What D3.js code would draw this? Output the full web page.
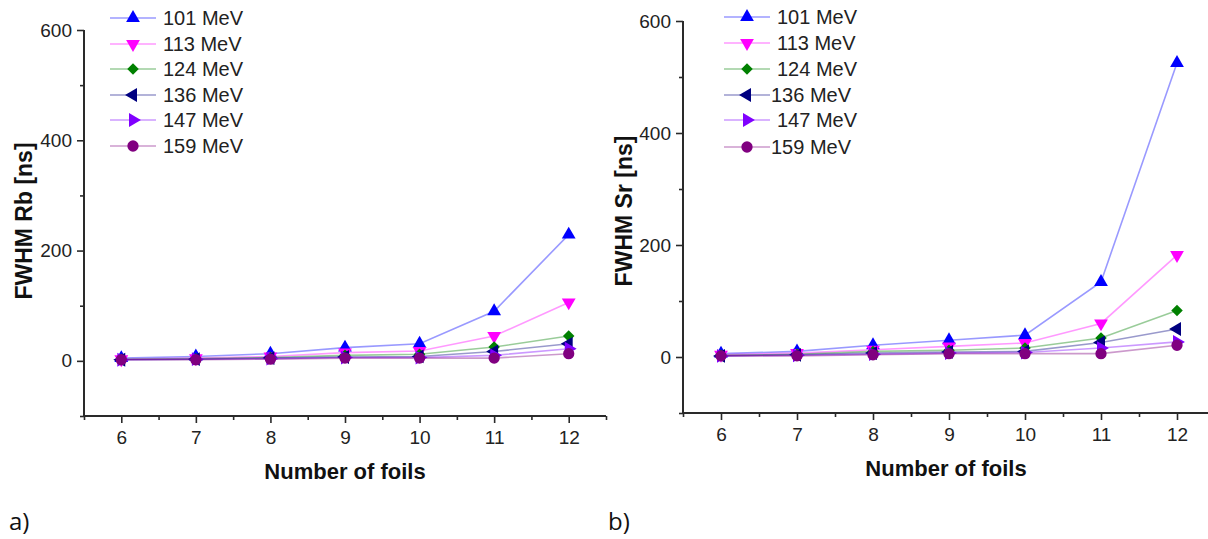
<!DOCTYPE html>
<html>
<head>
<meta charset="utf-8">
<script src="https://cdn.jsdelivr.net/npm/d3@7"></script>
<style>
  html, body { margin: 0; padding: 0; background: #fff; }
  svg { display: block; }
  text { font-family: "Liberation Sans", Arial, sans-serif; }
</style>
</head>
<body>
<svg id="chart" width="1208" height="539"></svg>
<script>
// ---- data ----
const foils = [6, 7, 8, 9, 10, 11, 12];
const seriesNames = ["101 MeV", "113 MeV", "124 MeV", "136 MeV", "147 MeV", "159 MeV"];

const rb101 = [5, 8, 13, 24, 31, 90, 229];
const rb113 = [3, 5, 8, 15, 18, 45, 106];
const rb124 = [3, 4, 6, 10, 12, 25, 45];
const rb136 = [2, 3, 5, 7, 8, 17, 31];
const rb147 = [2, 3, 4, 6, 6, 10, 22];
const rb159 = [2, 2, 3, 5, 5, 5, 13];

const sr101 = [6, 10, 21, 30, 39, 134, 525];
const sr113 = [4, 7, 13, 19, 25, 60, 182];
const sr124 = [3, 5, 10, 12, 16, 34, 83];
const sr136 = [2, 4, 7, 9, 10, 26, 50];
const sr147 = [2, 3, 5, 7, 8, 16, 27];
const sr159 = [2, 2, 4, 6, 6, 6, 21];

const xTicks = [6, 7, 8, 9, 10, 11, 12];
const yTicks = [0, 200, 400, 600];

// ---- styles ----
const colors = ["#0000ff", "#ff00ff", "#008000", "#000080", "#8000ff", "#800080"];
const shapes = [
  {type: d3.symbolTriangle, size: 82, rot: 0},
  {type: d3.symbolTriangle, size: 82, rot: 180},
  {type: d3.symbolSquare, size: 66, rot: 45},
  {type: d3.symbolTriangle, size: 82, rot: -90},
  {type: d3.symbolTriangle, size: 82, rot: 90},
  {type: d3.symbolCircle, size: 100, rot: 0}
];

const svg = d3.select("#chart");
const axisColor = "#2a2a2a";

function panel(cfg) {
  const x = d3.scaleLinear().domain([5.5, 12.5]).range([cfg.x0, cfg.x1]);
  const y = d3.scaleLinear().domain([-100, 600]).range([cfg.yBottom, cfg.yTop]);
  const g = svg.append("g");

  const xAxis = g.append("g").attr("transform", `translate(0,${cfg.yBottom})`)
    .call(d3.axisBottom(x).tickValues(xTicks).tickSize(7).tickPadding(8).tickFormat(d3.format("d")));
  const xMinor = g.append("g").attr("transform", `translate(0,${cfg.yBottom})`)
    .call(d3.axisBottom(x).tickValues([5.5, 6.5, 7.5, 8.5, 9.5, 10.5, 11.5, 12.5]).tickSize(4).tickFormat(""));
  const yAxis = g.append("g").attr("transform", `translate(${cfg.x0},0)`)
    .call(d3.axisLeft(y).tickValues(yTicks).tickSize(7).tickPadding(5).tickFormat(d3.format("d")));
  const yMinor = g.append("g").attr("transform", `translate(${cfg.x0},0)`)
    .call(d3.axisLeft(y).tickValues([-100, 100, 300, 500]).tickSize(4).tickFormat(""));

  [xAxis, xMinor, yAxis, yMinor].forEach(a => {
    a.select(".domain").attr("stroke", axisColor).attr("stroke-width", 2);
    a.selectAll(".tick line").attr("stroke", axisColor).attr("stroke-width", 1.6);
    a.selectAll("text").attr("fill", "#222").style("font-size", "19px")
      .style("font-family", "'Liberation Sans', Arial, sans-serif");
  });
  xMinor.select(".domain").remove();
  yMinor.select(".domain").remove();
  yAxis.select(".domain").attr("d", `M0,${cfg.yBottom}V${cfg.yTop}`);
  xAxis.select(".domain").attr("d", `M${cfg.x0},0H${cfg.x1}`);

  // axis titles
  g.append("text")
    .attr("x", cfg.xTitleX)
    .attr("y", cfg.yBottom + 63)
    .attr("text-anchor", "middle")
    .style("font-size", "22px").style("font-weight", "bold").attr("fill", "#111")
    .text("Number of foils");
  g.append("text")
    .attr("transform", `translate(${cfg.yTitleX},${cfg.yTitleY}) rotate(-90)`)
    .attr("text-anchor", "middle")
    .style("font-size", "23px").style("font-weight", "bold").attr("fill", "#111")
    .text(cfg.yTitle);

  // series
  const line = d3.line().x((d, i) => x(foils[i])).y(d => y(d));
  cfg.data.forEach((vals, s) => {
    const sg = g.append("g");
    sg.append("path").datum(vals)
      .attr("d", line)
      .attr("fill", "none")
      .attr("stroke", colors[s])
      .attr("stroke-opacity", 0.4)
      .attr("stroke-width", 1.6);
    sg.selectAll("path.m").data(vals).enter().append("path")
      .attr("class", "m")
      .attr("d", d3.symbol().type(shapes[s].type).size(shapes[s].size))
      .attr("transform", (d, i) => `translate(${x(foils[i])},${y(d)}) rotate(${shapes[s].rot})`)
      .attr("fill", colors[s]);
  });

  // legend
  seriesNames.forEach((name, s) => {
    const ly = cfg.legY[s];
    g.append("line")
      .attr("x1", cfg.legX0).attr("x2", cfg.legX0 + 46)
      .attr("y1", ly).attr("y2", ly)
      .attr("stroke", colors[s]).attr("stroke-opacity", 0.4).attr("stroke-width", 1.6);
    g.append("path")
      .attr("d", d3.symbol().type(shapes[s].type).size(shapes[s].size))
      .attr("transform", `translate(${cfg.legX0 + 23},${ly}) rotate(${shapes[s].rot})`)
      .attr("fill", colors[s]);
    g.append("text")
      .attr("x", cfg.legTextX[s]).attr("y", ly + 7)
      .style("font-size", "20px").attr("fill", "#222")
      .text(name);
  });

  // panel label
  g.append("text")
    .attr("x", cfg.labelX).attr("y", 530)
    .style("font-size", "24px").style("font-family", "'Open Sans', 'Liberation Sans', sans-serif")
    .attr("fill", "#111")
    .text(cfg.label);
}

panel({
  x0: 84, x1: 606, yTop: 30, yBottom: 416,
  yTitle: "FWHM Rb [ns]", yTitleX: 32, yTitleY: 221, xTitleX: 345,
  data: [rb101, rb113, rb124, rb136, rb147, rb159],
  legX0: 110, legY: [18, 44, 69, 95, 120, 146],
  legTextX: [163, 163, 163, 163, 163, 163],
  label: "a)", labelX: 9
});

panel({
  x0: 683, x1: 1215, yTop: 21, yBottom: 413,
  yTitle: "FWHM Sr [ns]", yTitleX: 632, yTitleY: 211, xTitleX: 946,
  data: [sr101, sr113, sr124, sr136, sr147, sr159],
  legX0: 724, legY: [17, 43, 69, 95, 120, 147],
  legTextX: [777, 777, 777, 771, 777, 771],
  label: "b)", labelX: 608
});
</script>
</body>
</html>
